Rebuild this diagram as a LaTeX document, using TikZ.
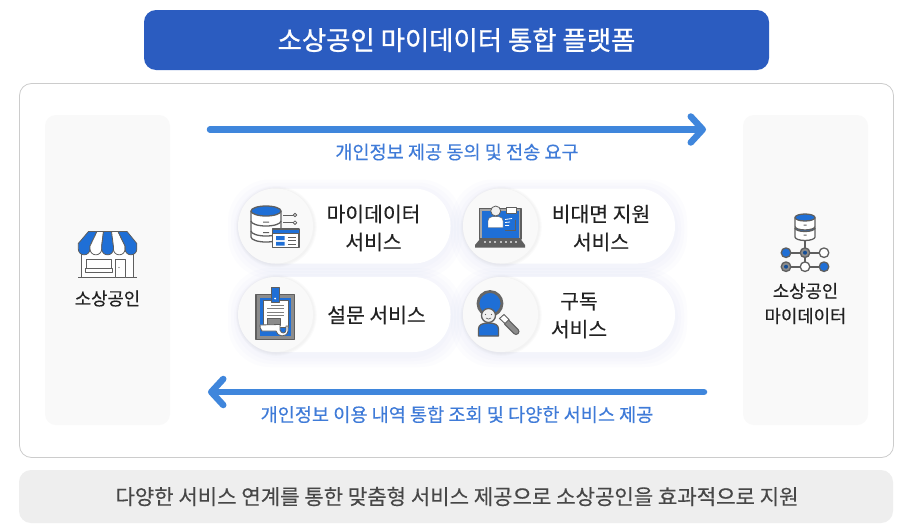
\documentclass[tikz,border=0pt]{standalone}
\usepackage{fontspec}
\setmainfont{Noto Sans CJK KR}[FakeBold=0.3]
\newfontfamily\titlefont{Noto Sans CJK KR}[FakeBold=0.9]
\usetikzlibrary{arrows.meta}
\definecolor{titleblue}{HTML}{2B5CC0}
\definecolor{flowblue}{HTML}{3F86DC}
\definecolor{labelblue}{HTML}{3F7BD8}
\definecolor{iconblue}{HTML}{1F6FD6}
\definecolor{icongray}{HTML}{5F5F5F}
\definecolor{ink}{HTML}{222222}
\definecolor{panelgray}{HTML}{F9F9F9}
\definecolor{footgray}{HTML}{EEEEEE}
\definecolor{shadowblue}{HTML}{AEBEE8}
\tikzset{
 x=1pt,y=-1pt,
 box/.style={inner sep=0,outer sep=0,anchor=center},
 mainbox/.style={box,draw=black!20,line width=.8pt,fill=white,rounded corners=12pt,minimum width=874pt,minimum height=374pt},
 titlebox/.style={box,fill=titleblue,rounded corners=12pt,minimum width=625pt,minimum height=60pt,text=white,font=\fontsize{26.4}{30}\titlefont},
 footbox/.style={box,fill=footgray,rounded corners=12pt,minimum width=874pt,minimum height=53pt,text=black!72,font=\fontsize{21.1}{26}\selectfont},
 sidepanel/.style={box,fill=panelgray,rounded corners=11pt,minimum width=125pt,minimum height=310pt},
 pill/.style={box,fill=white,rounded corners=37pt,minimum width=212pt,minimum height=75pt},
 disc/.style={box,circle,fill=panelgray,minimum size=75pt},
 svc/.style={inner sep=0,align=center,text=ink,font=\fontsize{20.4}{28}\selectfont},
 side/.style={inner sep=0,align=center,text=ink,font=\fontsize{17.8}{25}\selectfont},
 flowlabel/.style={inner sep=0,text=labelblue,font=\fontsize{18.6}{22}\selectfont},
 flow/.style={draw=flowblue,line width=6.5pt,line cap=round,-{Straight Barb[length=12pt,width=26pt,line width=6.5pt,round]}},
 ic/.style={draw=icongray,line width=1.3pt,line join=round},
 icb/.style={ic,fill=iconblue},
 icw/.style={ic,fill=white},
 icg/.style={ic,fill=black!45},
}
\newcommand{\softpill}[3]{% centre x, centre y, width
 \foreach \g in {12,9,6,3}{
  \fill[shadowblue,opacity=.035,rounded corners=42pt] (#1-#3/2-\g,#2-37.5-\g+3) rectangle (#1+#3/2+\g,#2+37.5+\g+3);}
}
\newcommand{\softdisc}[2]{%
 \foreach \g in {3,2,1}{\fill[black,opacity=.014] (#1+.8,#2+.8) circle[radius=37.5+\g];}
}
\newcommand{\dbdisk}[5]{% cx, top y, rx, ry, height
 \path[icw] (#1-#3,#2) -- (#1-#3,#2+#5) arc[start angle=180,end angle=360,x radius=#3,y radius=-#4] -- (#1+#3,#2);
}
\begin{document}
\begin{tikzpicture}
\useasboundingbox (0,0) rectangle (917,530);
\fill[white] (0,0) rectangle (917,530);

\node[mainbox] (main) at (456.5,270.5) {};
\node[titlebox] (title) at (456.5,40) {\raisebox{-1pt}{소상공인 마이데이터 통합 플랫폼}};
\node[footbox] (foot) at (456,496.5) {\hspace{2pt}\raisebox{-1pt}{다양한 서비스 연계를 통한 맞춤형 서비스 제공으로 소상공인을 효과적으로 지원}};
\node[sidepanel] (left) at (107.5,270) {};
\node[sidepanel] (right) at (805.5,270) {};

% flows
\coordinate (f1s) at (210,129.5);
\coordinate (f1e) at (706,129.5);
\coordinate (f2s) at (704,392);
\coordinate (f2e) at (208,392);
\draw[flow] (f1s) -- (f1e);
\draw[flow] (f2s) -- (f2e);
\node[flowlabel] (l1) at (457,152) {개인정보 제공 동의 및 전송 요구};
\node[flowlabel] (l2) at (457,414.5) {개인정보 이용 내역 통합 조회 및 다양한 서비스 제공};

% pills
\softpill{345}{226}{210}
\softpill{345}{314.5}{210}
\softpill{569}{226}{212}
\softpill{569}{314.5}{212}
\node[pill] (p1) at (344.5,226) {};
\node[pill] (p2) at (344.5,314.5) {};
\node[pill] (p3) at (569,226) {};
\node[pill] (p4) at (569,314.5) {};
\softdisc{275.5}{226}
\softdisc{275.5}{314.5}
\softdisc{500.5}{226}
\softdisc{500.5}{314.5}
\node[disc] (d1) at (275.5,226) {};
\node[disc] (d2) at (275.5,314.5) {};
\node[disc] (d3) at (500.5,226) {};
\node[disc] (d4) at (500.5,314.5) {};
\node[svc] (s1) at (373.5,228) {마이데이터\\서비스};
\node[svc] (s2) at (376.5,315) {설문 서비스};
\node[svc] (s3) at (601,228) {비대면 지원\\서비스};
\node[svc] (s4) at (579,315.5) {구독\\서비스};
\node[side] (t1) at (107.5,298.5) {소상공인};
\node[side] (t2) at (805.5,303.5) {소상공인\\마이데이터};

% icon: database + window
\dbdisk{266}{231}{15}{5}{6}
\dbdisk{266}{221}{15}{5}{10}
\dbdisk{266}{211}{15}{5}{10}
\path[icb] (266,211) ellipse[x radius=15,y radius=5];
\fill[icongray] (263,221.5) rectangle (269,222.5) (263,232) rectangle (269,233);
\draw[ic,line width=.9pt,fill=white] (283,215) -- (293,215) (283,222.7) -- (293,222.7);
\path[icw,line width=.8pt] (295,215) circle[radius=1.8] (295,222.7) circle[radius=1.8];
\path[icw] (272.7,229) rectangle (299,247.5);
\path[icb,line width=.6pt] (272.7,229) rectangle (299,233.5);
\fill[iconblue] (276,236) rectangle (284.5,240) (276,241.8) rectangle (284.5,245.5);
\draw[icongray,line width=.9pt] (288,237) -- (296,237) (288,240.5) -- (296,240.5) (288,244) -- (296,244);

% icon: clipboard
\path[ic,fill=black!45] (256,294.5) rectangle (294.3,339.3);
\fill[iconblue] (259.5,298) rectangle (290.8,336);
\path[icw,line width=.8pt] (263,300) rectangle (288,327);
\draw[black!50,line width=1pt] (271,305) -- (284,305) (267,308.5) -- (284,308.5) (267,312) -- (284,312) (267,315.5) -- (284,315.5);
\path[icg,line width=.8pt] (267,318) rectangle (280,325);
\path[icw,line width=.8pt] (260,325) -- (280,324.5) -- (280,330) .. controls (281,334) and (286,334) .. (286,330) -- (286,326) -- (288,326) -- (288,331) .. controls (287,338) and (277,337) .. (276,331) -- (262,331) .. controls (260,329) and (260,327) .. (260,325) -- cycle;
\path[ic,fill=iconblue,line width=.8pt] (271,287.7) rectangle (279.3,302);
\fill[white] (275.2,298.5) circle[radius=1];

% icon: laptop
\path[ic,fill=black!35] (479.5,208.3) rectangle (521,239);
\fill[iconblue] (481.5,210.5) rectangle (519,238);
\draw[icw,fill=white,line width=.4pt] (488,227.5) -- (488,221) .. controls (488,217.5) and (491,216.5) .. (495.5,216.5) .. controls (500,216.5) and (503,217.5) .. (503,221) -- (503,227.5) -- cycle;
\path[ic,fill=black!6,line width=.8pt] (495.7,211) circle[radius=5];
\draw[white,line width=.8pt] (505,219.5) -- (512,218.5) (505,222.5) -- (510,222) (505,225.5) -- (509,225.5);
\draw[icongray,line width=.8pt] (515,220) -- (515,230) -- (505,230);
\path[ic,fill=white,line width=.6pt] (506.7,207) rectangle (516.7,213.5);
\fill[icongray] (480,239) -- (520.5,239) -- (525,245) -- (525,247.7) -- (475,247.7) -- (475,245) -- cycle;
\foreach \k in {0,1,...,6}{\fill[black!25] (484+\k*5.2,241) rectangle ++(2,1.8);}

% icon: magnifier + person
\draw[icongray,line width=7pt,line cap=round] (507,322.5) -- (516,331.5);
\draw[black!45,line width=4.5pt,line cap=round] (507,322.5) -- (516,331.5);
\draw[icongray,line width=.9pt,fill=white] (499.5,318.5) -- (504,314.5) -- (509,319.5) -- (505,323.5) -- cycle;
\path[ic,fill=iconblue,line width=2.8pt,draw=black!60] (490,303.5) circle[radius=12];
\path[ic,fill=iconblue] (478.5,336) -- (478.5,329) .. controls (478.5,325) and (482,323) .. (488.5,323) .. controls (495,323) and (498.5,325) .. (498.5,329) -- (498.5,336) -- cycle;
\path[ic,fill=black!6] (488.5,315.5) circle[radius=7];
\fill[icongray] (485.5,314.5) circle[radius=.7] (491.5,314.5) circle[radius=.7];
\draw[icongray,line width=.6pt] (486,318) .. controls (487,319.5) and (490,319.5) .. (491,318);

% icon: shop
\path[ic,fill=white] (81.7,250) -- (81.7,277.5) -- (133.3,277.5) -- (133.3,250) -- cycle;
\draw[icongray,line width=1.1pt] (78,277.5) -- (137,277.5);
\path[ic,fill=white,line width=.8pt] (86,259.5) rectangle (111.5,271.5);
\path[ic,fill=white,line width=.8pt] (85,268.5) rectangle (112.5,272);
\path[ic,fill=white,line width=.8pt] (115,259.5) rectangle (125.7,277.5);
\fill[icongray] (119,267.5) circle[radius=.6];
\path[ic,fill=iconblue,line width=.8pt] (88.5,231.5) -- (97,231.5) -- (90,246) -- (90,249) arc[start angle=0,end angle=180,radius=5.85] -- (78.3,243.5) -- cycle;
\path[ic,fill=white,line width=.8pt] (97,231.5) -- (103.5,231.5) -- (101.7,246) -- (101.7,249) arc[start angle=0,end angle=180,radius=5.85] -- (90,246) -- cycle;
\path[ic,fill=iconblue,line width=.8pt] (103.5,231.5) -- (111.5,231.5) -- (113.4,246) -- (113.4,249) arc[start angle=0,end angle=180,radius=5.85] -- (101.7,246) -- cycle;
\path[ic,fill=white,line width=.8pt] (111.5,231.5) -- (118,231.5) -- (125.1,246) -- (125.1,249) arc[start angle=0,end angle=180,radius=5.85] -- (113.4,246) -- cycle;
\path[ic,fill=iconblue,line width=.8pt] (118,231.5) -- (127,231.5) -- (136.8,243.5) -- (136.8,249) arc[start angle=0,end angle=180,radius=5.85] -- (125.1,246) -- cycle;

% icon: my-data network
\draw[icongray,line width=1.6pt] (805,238) -- (805,266.7) (786,252.7) -- (824,252.7) (786,266.7) -- (824,266.7);
\dbdisk{805}{228}{10}{3.5}{9}
\path[icb] (805,228) ellipse[x radius=10,y radius=3.5];
\dbdisk{805}{217.5}{10}{3.5}{9}
\path[icb] (805,217.5) ellipse[x radius=10,y radius=3.5];
\fill[icongray] (803.5,224.5) rectangle (806.5,225.5) (803.5,234.5) rectangle (806.5,235.5);
\path[icb] (786,252.7) circle[radius=4.8];
\path[icg] (805,252.7) circle[radius=4.8];
\fill[iconblue!70!black] (805,252.7) circle[radius=2];
\path[icw] (824,252.7) circle[radius=4.8];
\path[icg] (786,266.7) circle[radius=4.8];
\fill[iconblue!70!black] (786,266.7) circle[radius=2];
\path[icw] (805,266.7) circle[radius=4.8];
\path[icb] (824,266.7) circle[radius=4.8];
\end{tikzpicture}
\end{document}
